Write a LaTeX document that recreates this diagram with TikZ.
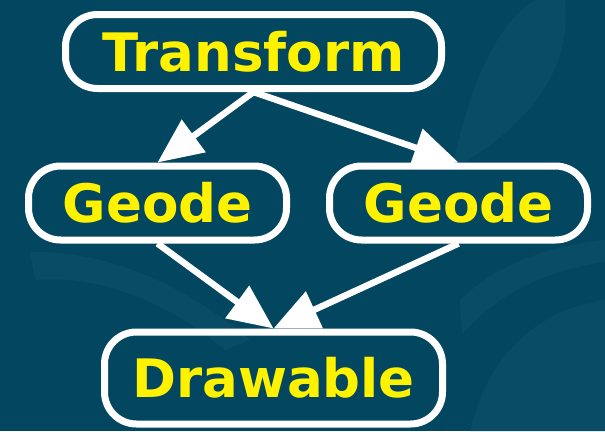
\documentclass[tikz,border=0pt]{standalone}
\usepackage{fontspec}
\setmainfont{DejaVu Sans}
\usetikzlibrary{arrows.meta}
\definecolor{bgteal}{RGB}{3,70,96}
\definecolor{bgleaf}{RGB}{8,76,101}

\begin{document}
\begin{tikzpicture}[x=1pt, y=-1pt, >={Triangle[length=45pt,width=39pt]},
  box/.style={draw=white, line width=7pt, rounded corners=32pt, text=yellow,
    font=\fontsize{53}{60}\selectfont\bfseries, inner sep=0pt, minimum height=74pt},
  arr/.style={->, draw=white, line width=6.5pt},
  leaf/.style={fill=bgleaf}]
  % backdrop with a few soft leaf shapes
  \fill[bgteal] (0,0) rectangle (605,431);
  \useasboundingbox (0,0) rectangle (605,431);
  \fill[leaf] (452,170) .. controls (470,80) and (500,20) .. (535,0) -- (565,0)
    .. controls (572,60) and (540,120) .. (452,170);
  \fill[leaf] (470,431) .. controls (490,350) and (540,310) .. (605,300) -- (605,431) -- cycle;
  \fill[leaf] (460,300) .. controls (500,262) and (550,246) .. (605,240) -- (605,262)
    .. controls (550,270) and (500,290) .. (462,335) -- cycle;
  \fill[leaf] (30,252) .. controls (100,250) and (180,280) .. (250,340) -- (225,350)
    .. controls (160,295) and (90,275) .. (35,280) -- cycle;

  \node[box, minimum width=376pt] (tr)  at (253.5,51.5) {Transform};
  \node[box, minimum width=258pt] (gl)  at (157.5,203)  {Geode};
  \node[box, minimum width=258pt] (gr)  at (458.5,203)  {Geode};
  \node[box, minimum width=338pt, minimum height=92pt] (dr) at (273.5,378) {Drawable};

  \draw[arr] (tr.south) -- (gl.north);
  \draw[arr] (tr.south) -- (gr.north);
  \draw[arr] (gl.south) -- (dr.north);
  \draw[arr] (gr.south) -- (dr.north);
\end{tikzpicture}
\end{document}
